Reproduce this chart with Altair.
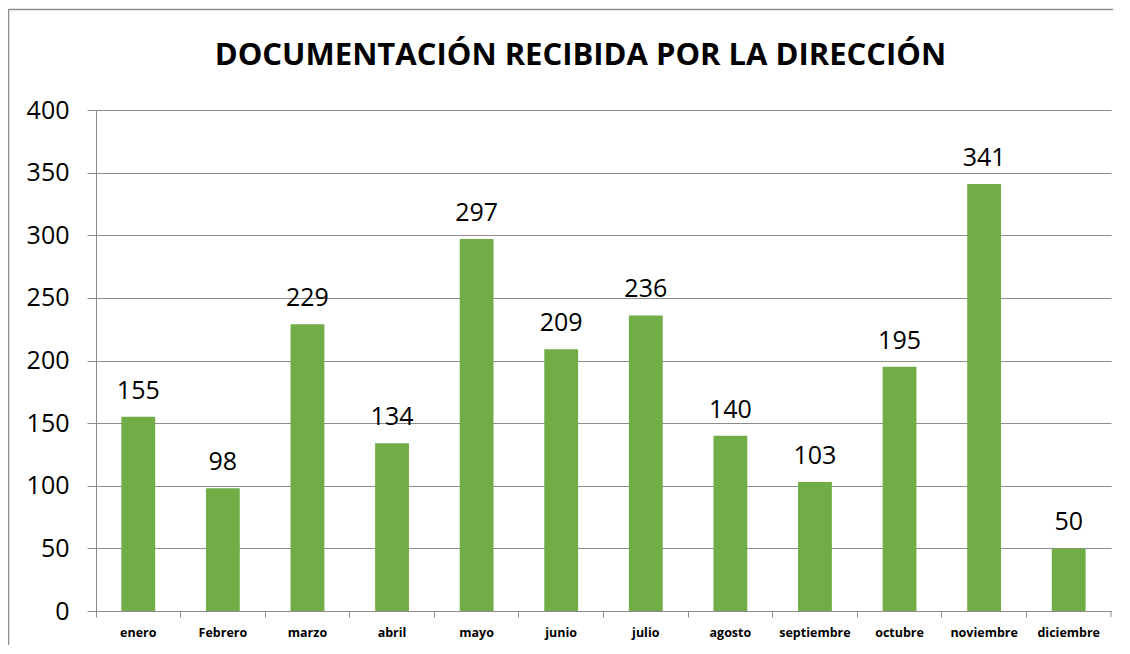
import altair as alt
import pandas as pd

title_text = "DOCUMENTACIÓN RECIBIDA POR LA DIRECCIÓN"
months = ["enero", "Febrero", "marzo", "abril", "mayo", "junio", "julio",
          "agosto", "septiembre", "octubre", "noviembre", "diciembre"]
values = [155, 98, 229, 134, 297, 209, 236, 140, 103, 195, 341, 50]
y_ticks = [0, 50, 100, 150, 200, 250, 300, 350, 400]

df = pd.DataFrame({"mes": months, "docs": values})
tdf = pd.DataFrame({"t": [title_text]})

W, H = 1015, 501
GRAY = "#8c8c8c"
FONT = "Open Sans"

x = alt.X("mes:N", sort=months, title=None,
          scale=alt.Scale(paddingInner=0, paddingOuter=0),
          axis=alt.Axis(labelAngle=0, labelFont=FONT, labelFontWeight="bold",
                        labelFontSize=12.5, labelColor="black", labelPadding=9,
                        tickSize=6, tickColor=GRAY, domainColor=GRAY,
                        bandPosition=0, labelBound=False))
y = alt.Y("docs:Q", title=None,
          scale=alt.Scale(domain=[0, 400], nice=False),
          axis=alt.Axis(values=y_ticks, labelFont=FONT, labelFontSize=25,
                        labelColor="black", labelPadding=18, tickSize=9,
                        tickColor=GRAY, gridColor=GRAY, domainColor=GRAY,
                        gridWidth=1))

base = alt.Chart(df)
bars = base.mark_bar(color="#70AD47", width=alt.RelativeBandSize(0.4)).encode(x=x, y=y)
labels = base.mark_text(font=FONT, fontSize=25, color="black",
                        baseline="alphabetic", dy=-18).encode(
    x=alt.X("mes:N", sort=months), y="docs:Q", text="docs:Q")

title = alt.Chart(tdf).mark_text(font=FONT, fontSize=31, fontWeight="bold",
                                 color="black", baseline="alphabetic",
                                 align="center").encode(
    x=alt.value(W / 2 - 23), y=alt.value(-45), text="t:N")

end_tick = alt.Chart(tdf).mark_rule(color=GRAY).encode(
    x=alt.value(W), y=alt.value(H), y2=alt.value(H + 6))
border = alt.Chart(tdf).mark_rule(color=GRAY, strokeWidth=1.5).encode(
    x=alt.value(-87.5), x2=alt.value(W + 10), y=alt.value(-100.5))
border_l = alt.Chart(tdf).mark_rule(color=GRAY, strokeWidth=1.5).encode(
    x=alt.value(-87.5), y=alt.value(-100.5), y2=alt.value(H + 40))

chart = alt.layer(bars, labels, title, end_tick, border, border_l).properties(
    width=W, height=H,
    autosize=alt.AutoSizeParams(type="none"),
    padding={"left": 88, "top": 102, "right": 2, "bottom": 34},
).configure_view(stroke=None)

chart.save("out.html", embed_options={"renderer": "svg", "actions": False})
